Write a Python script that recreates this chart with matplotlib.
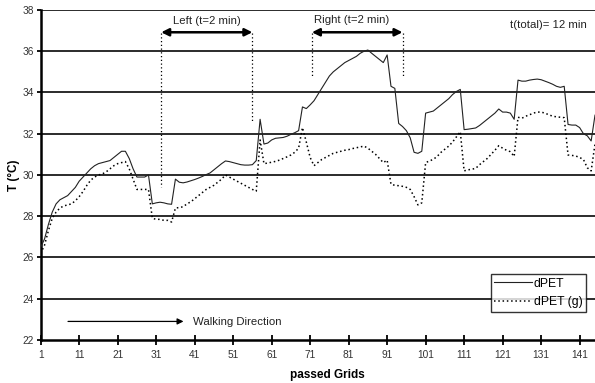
import matplotlib
matplotlib.use("Agg")
import matplotlib.pyplot as plt
import numpy as np

plt.rcParams['font.family'] = ['Liberation Sans', 'DejaVu Sans']

grids = list(range(1, 146))

dpet = [26.5, 26.9, 27.6, 28.2, 28.6, 28.8, 28.9, 29.0, 29.2, 29.4,
        29.7, 29.9, 30.1, 30.3, 30.45, 30.55, 30.6, 30.65, 30.7, 30.85,
        31.0, 31.15, 31.15, 30.8, 30.3, 29.9, 29.9, 29.9, 30.0, 28.6,
        28.65, 28.68, 28.65, 28.6, 28.58, 29.8, 29.65, 29.62, 29.66, 29.72,
        29.78, 29.85, 29.93, 30.02, 30.1, 30.25, 30.4, 30.55, 30.68, 30.65,
        30.6, 30.55, 30.5, 30.48, 30.48, 30.5, 30.7, 32.7, 31.5, 31.55,
        31.7, 31.78, 31.8, 31.82, 31.88, 31.97, 32.05, 32.15, 33.3, 33.22,
        33.4, 33.6, 33.9, 34.2, 34.5, 34.8, 35.0, 35.15, 35.3, 35.45,
        35.55, 35.65, 35.75, 35.9, 36.0, 36.06, 35.9, 35.75, 35.6, 35.45,
        35.82, 34.3, 34.2, 32.5, 32.35, 32.15, 31.8, 31.1, 31.05, 31.15,
        33.0, 33.05, 33.1, 33.25, 33.4, 33.55, 33.7, 33.9, 34.05, 34.15,
        32.2, 32.22, 32.25, 32.28, 32.4, 32.55, 32.7, 32.85, 33.0, 33.2,
        33.05, 33.05, 33.0, 32.7, 34.6, 34.55, 34.55, 34.6, 34.63, 34.65,
        34.62, 34.55, 34.48, 34.4, 34.3, 34.25, 34.3, 32.45, 32.42, 32.42,
        32.3, 32.0, 31.9, 31.65, 32.9]

dpet_g = [26.2, 26.6, 27.3, 27.9, 28.2, 28.4, 28.5, 28.55, 28.6, 28.75,
          28.95, 29.2, 29.5, 29.75, 29.9, 30.0, 30.05, 30.15, 30.3, 30.45,
          30.55, 30.6, 30.65, 30.3, 29.8, 29.3, 29.3, 29.3, 29.3, 27.9,
          27.85, 27.85, 27.8, 27.8, 27.72, 28.4, 28.42, 28.46, 28.6, 28.7,
          28.85, 29.0, 29.15, 29.3, 29.4, 29.5, 29.65, 29.8, 30.0, 29.9,
          29.8, 29.7, 29.6, 29.5, 29.4, 29.3, 29.22, 31.7, 30.55, 30.58,
          30.62, 30.66, 30.72, 30.8, 30.88, 30.97, 31.1, 31.3, 32.3, 31.6,
          30.85, 30.45, 30.6, 30.75, 30.85, 30.95, 31.05, 31.1, 31.15, 31.2,
          31.23, 31.28, 31.32, 31.36, 31.4, 31.3, 31.15, 31.0, 30.8, 30.6,
          30.72, 29.55, 29.5, 29.48, 29.45, 29.4, 29.3, 28.95, 28.55, 28.65,
          30.6, 30.68, 30.76, 30.9, 31.1, 31.25, 31.4, 31.6, 31.85, 32.1,
          30.2, 30.25, 30.28, 30.32, 30.5, 30.65, 30.8, 31.0, 31.2, 31.42,
          31.3, 31.2, 31.13, 30.9, 32.8, 32.75, 32.85, 32.92, 33.0, 33.05,
          33.05, 33.0, 32.92, 32.85, 32.82, 32.8, 32.78, 30.97, 30.95, 30.92,
          30.85, 30.75, 30.35, 30.2, 31.5]

x_ticks = list(range(1, 146, 10))
y_ticks = list(range(22, 39, 2))

fig = plt.figure(figsize=(5.95, 3.83), dpi=100)
ax = fig.add_axes([0.0684, 0.1123, 0.9316, 0.8616])

for yv in y_ticks[1:]:
    ax.axhline(yv, color='#1a1a1a', lw=1.3, zorder=1)

ax.plot(grids, dpet, color='#222222', lw=0.8, zorder=3, label='dPET')
ax.plot(grids, dpet_g, color='black', lw=1.1, ls=(0, (1, 1.8)), zorder=3,
        label='dPET (g)')

ax.set_xlim(1, 145)
ax.set_ylim(22, 38)
ax.set_xticks(x_ticks)
ax.set_yticks(y_ticks)
ax.tick_params(axis='x', direction='inout', length=7, width=1.3,
               labelsize=7.3, labelcolor='#333333', pad=4)
ax.tick_params(axis='y', direction='out', length=3, width=1.3,
               labelsize=7.3, labelcolor='#333333', pad=2)
for s in ['top', 'right']:
    ax.spines[s].set_visible(False)
ax.spines['left'].set_linewidth(1.8)
ax.spines['bottom'].set_linewidth(1.8)

ax.set_ylabel('T (°C)', fontsize=8.5, fontweight='bold')
ax.set_xlabel('passed Grids', fontsize=8.5, fontweight='bold')
ax.xaxis.set_label_coords(0.518, -0.088)
ax.yaxis.set_label_coords(-0.038, 0.5)

# Left / Right interval markers
arr = dict(arrowstyle='<|-|>', color='black', lw=1.8, mutation_scale=11,
           shrinkA=0, shrinkB=0)
ax.annotate('', xy=(32.3, 36.92), xytext=(56.0, 36.92), arrowprops=arr)
ax.annotate('', xy=(71.45, 36.92), xytext=(95.0, 36.92), arrowprops=arr)
ax.plot([32.3, 32.3], [36.9, 29.4], color='black', lw=0.9, ls=(0, (1, 2)))
ax.plot([56.0, 56.0], [36.9, 32.5], color='black', lw=0.9, ls=(0, (1, 2)))
ax.plot([71.45, 71.45], [36.9, 34.8], color='black', lw=0.9, ls=(0, (1, 2)))
ax.plot([95.0, 95.0], [36.9, 34.8], color='black', lw=0.9, ls=(0, (1, 2)))
ax.text(44.3, 37.45, 'Left (t=2 min)', fontsize=8.2, ha='center',
        va='center', color='#222222')
ax.text(81.8, 37.5, 'Right (t=2 min)', fontsize=8.2, ha='center',
        va='center', color='#222222')
ax.text(133.0, 37.25, 't(total)= 12 min', fontsize=8.2, ha='center',
        va='center', color='#222222')

# Walking direction
ax.annotate('', xy=(38.1, 22.9), xytext=(8.1, 22.9),
            arrowprops=dict(arrowstyle='-|>', color='black', lw=0.9,
                            mutation_scale=9, shrinkA=0, shrinkB=0))
ax.text(40.5, 22.85, 'Walking Direction', fontsize=8.2, ha='left',
        va='center', color='#222222')

leg = ax.legend(loc='upper left', bbox_to_anchor=(0.812, 0.2), fontsize=8.8,
                frameon=True, fancybox=False, edgecolor='black',
                handlelength=3.1, handletextpad=0.1, borderpad=0.3,
                labelspacing=0.55, borderaxespad=0)
leg.get_frame().set_linewidth(1.0)
leg.set_zorder(5)

fig.savefig('out.png', dpi=100)
